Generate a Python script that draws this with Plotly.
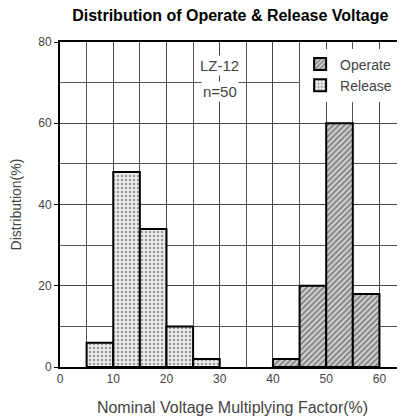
import plotly.graph_objects as go

# Data
release_bins = [7.5, 12.5, 17.5, 22.5, 27.5]
release_vals = [6, 48, 34, 10, 2]
operate_bins = [42.5, 47.5, 52.5, 57.5]
operate_vals = [2, 20, 60, 18]
bin_width = 5
x_ticks = [0, 10, 20, 30, 40, 50, 60]
y_ticks = [0, 20, 40, 60, 80]

fig = go.Figure()
fig.add_trace(go.Bar(
    x=operate_bins, y=operate_vals, width=bin_width, name="Operate",
    marker=dict(color="#bdbdbd", line=dict(color="black", width=2),
                pattern=dict(shape="/", fgcolor="#222222", bgcolor="#cfcfcf", size=4, solidity=0.4)),
))
fig.add_trace(go.Bar(
    x=release_bins, y=release_vals, width=bin_width, name="Release",
    marker=dict(color="#e6e6e6", line=dict(color="black", width=2),
                pattern=dict(shape=".", fgcolor="#444444", bgcolor="#ececec", size=4, solidity=0.3)),
))

txt_font = "Liberation Sans, Arial, sans-serif"
axis_font = dict(family=txt_font, size=12, color="#444444")
# the page adds an 8px body margin, so the figure is 8px smaller than the window
fig.update_layout(
    width=397, height=411,
    margin=dict(l=52, r=0, t=34, b=52, autoexpand=False),
    paper_bgcolor="white", plot_bgcolor="white",
    barmode="overlay",
    title=dict(text="<b>Distribution of Operate &amp; Release Voltage</b>",
               x=0.56, xanchor="center", y=0.982, yanchor="middle",
               font=dict(family=txt_font, size=16, color="black")),
    legend=dict(x=0.696, y=0.98, xanchor="left", yanchor="top", bgcolor="white",
                font=dict(family=txt_font, size=14, color="#444444"),
                itemwidth=30, tracegroupgap=3),
    showlegend=True,
    annotations=[
        dict(text="LZ-12", x=30, y=74.2, xref="x", yref="y", showarrow=False, bgcolor="white",
             font=dict(family=txt_font, size=15, color="#444444")),
        dict(text="n=50", x=30, y=67.8, xref="x", yref="y", showarrow=False, bgcolor="white",
             font=dict(family=txt_font, size=15, color="#444444")),
    ],
)
fig.update_xaxes(
    range=[0, 64.8], tickvals=x_ticks, ticks="", tickfont=axis_font, automargin=False,
    showgrid=True, gridcolor="#444444", gridwidth=1,
    minor=dict(dtick=5, tick0=0, showgrid=True, gridcolor="#555555", gridwidth=1),
    showline=True, linecolor="black", linewidth=2, mirror=True,
    title=dict(text="Nominal Voltage Multiplying Factor(%)", standoff=16,
               font=dict(family=txt_font, size=16, color="#444444")),
    zeroline=False,
)
fig.update_yaxes(
    range=[0, 80], tickvals=y_ticks, ticks="outside", ticklen=4, tickcolor="black", tickfont=axis_font,
    automargin=False,
    showgrid=True, gridcolor="#444444", gridwidth=1,
    minor=dict(dtick=10, tick0=0, showgrid=True, gridcolor="#555555", gridwidth=1),
    showline=True, linecolor="black", linewidth=2,
    title=dict(text="Distribution(%)", standoff=22,
               font=dict(family=txt_font, size=14, color="#444444")),
    zeroline=False,
)

fig.write_html("out.html")
